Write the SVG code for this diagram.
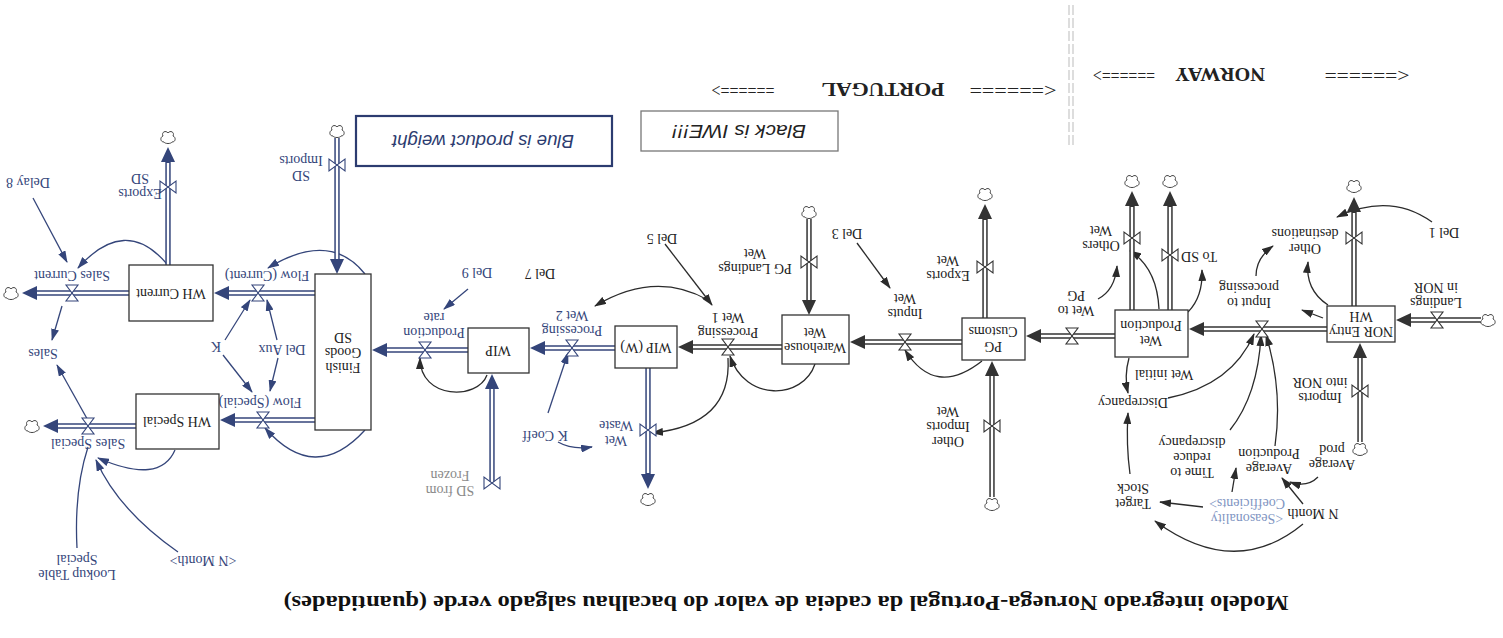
<svg xmlns="http://www.w3.org/2000/svg" width="1503" height="638" viewBox="0 0 1503 638">
<defs>
<style>
.bg{fill:#fff}
.box{fill:#fff;stroke:#333;stroke-width:1.3}
.t{font-family:"Liberation Serif",serif;font-size:14px;fill:#222;text-anchor:middle}
.tb{fill:#34457a}
.tg{fill:#8a8a8a}
.tl{fill:#7f95c2}
.po{stroke:#333;stroke-width:5.4;fill:none}
.po.b{stroke:#34457a}
.pi{stroke:#fff;stroke-width:2.4;fill:none}
.ah{fill:#333}
.ah.b{fill:#34457a}
.v{fill:#fff;stroke:#333;stroke-width:1.1}
.v.b{stroke:#34457a}
.cl{fill:#fff;stroke:#444;stroke-width:1}
.lk{fill:none;stroke:#2b2b2b;stroke-width:1.3;marker-end:url(#mk)}
.lk.b{stroke:#34457a;marker-end:url(#mkb)}
.nm{fill:none;stroke:#34457a;stroke-width:1.3}
.hd{font-family:"Liberation Serif",serif;font-size:18px;fill:#222;text-anchor:middle}
.hn{font-family:"Liberation Serif",serif;font-size:19px;font-weight:bold;fill:#222;text-anchor:middle}
</style>
<marker id="mk" viewBox="0 0 12 8" refX="11" refY="4" markerWidth="12" markerHeight="8" markerUnits="userSpaceOnUse" orient="auto"><path d="M0,0 L12,4 L0,8 Z" fill="#2b2b2b"/></marker>
<marker id="mkb" viewBox="0 0 12 8" refX="11" refY="4" markerWidth="12" markerHeight="8" markerUnits="userSpaceOnUse" orient="auto"><path d="M0,0 L12,4 L0,8 Z" fill="#34457a"/></marker>
<path id="vh" d="M-6,-8 H6 L-6,8 H6 Z"/>
<path id="vv" d="M-8,-6 V6 L8,-6 V6 Z"/>
<path id="cloud" d="M-4,5 C-8,5 -8,0 -5,-1 C-7,-5 -2,-7 0,-4 C2,-7 7,-5 5,-1 C8,0 8,5 4,5 C3,7 -3,7 -4,5 Z"/>
</defs>
<rect class="bg" x="0" y="0" width="1503" height="638"/>

<g id="header">
<line x1="1069" y1="5" x2="1069" y2="145" stroke="#bbb" stroke-width="1" stroke-dasharray="10 3"/>
<line x1="1073" y1="5" x2="1073" y2="145" stroke="#bbb" stroke-width="1" stroke-dasharray="10 3"/>
<text class="hd" x="1124" y="81" textLength="62" lengthAdjust="spacingAndGlyphs" transform="rotate(180 1124 75)">======&gt;</text>
<text class="hn" x="1220" y="82" textLength="90" lengthAdjust="spacingAndGlyphs" transform="rotate(180 1220 75)">NORWAY</text>
<text class="hd" x="1367" y="81" textLength="85" lengthAdjust="spacingAndGlyphs" transform="rotate(180 1367 75)">&lt;======</text>
<text class="hd" x="743" y="96" textLength="63" lengthAdjust="spacingAndGlyphs" transform="rotate(180 743 90)">======&gt;</text>
<text class="hn" x="883" y="97" textLength="123" lengthAdjust="spacingAndGlyphs" transform="rotate(180 883 90)">PORTUGAL</text>
<text class="hd" x="1013" y="96" textLength="87" lengthAdjust="spacingAndGlyphs" transform="rotate(180 1013 90)">&lt;======</text>
</g>

<g id="note-black">
<rect x="641" y="111" width="197" height="40" fill="#fff" stroke="#777" stroke-width="1.3"/>
<text x="739" y="137" textLength="134" lengthAdjust="spacingAndGlyphs" transform="rotate(180 739 131)" font-family="Liberation Sans, sans-serif" font-style="italic" font-size="18" fill="#222" text-anchor="middle">Black is IWE!!!</text>
</g>
<g id="note-blue">
<rect x="356" y="116" width="256" height="50" fill="#fff" stroke="#2c3c70" stroke-width="2.2"/>
<text x="483" y="147.5" textLength="182" lengthAdjust="spacingAndGlyphs" transform="rotate(180 483 141)" font-family="Liberation Sans, sans-serif" font-style="italic" font-size="19" fill="#2c3c70" text-anchor="middle">Blue is product weight</text>
</g>

<g id="title">
<text x="786" y="610" textLength="1005" lengthAdjust="spacingAndGlyphs" transform="rotate(180 786 603)" font-family="Liberation Serif, serif" font-weight="bold" font-size="21" fill="#111" text-anchor="middle">Modelo integrado Noruega-Portugal da cadeia de valor do bacalhau salgado verde (quantidades)</text>
</g>

<g id="connectors">
<path class="lk" d="M1432,222 Q1390,192 1337,217"/>
<path class="lk" d="M1328,305 Q1305,290 1308,262"/>
<path class="lk" d="M1323,318 L1302,310"/>
<path class="lk" d="M1256,276 Q1256,258 1273,246"/>
<path class="lk" d="M1188,312 Q1203,297 1202,270"/>
<path class="lk" d="M1159,309 Q1157,268 1130,251"/>
<path class="lk" d="M1098,299 Q1115,290 1117,266"/>
<path class="lk" d="M1129,358 Q1124,376 1128,393"/>
<path class="lk" d="M1168,398 Q1232,385 1254,334"/>
<path class="lk" d="M1230,430 Q1258,395 1261,335"/>
<path class="lk" d="M1275,446 Q1283,390 1266,335"/>
<path class="lk" d="M1130,474 Q1126,445 1128,413"/>
<path class="lk" d="M1303,524 Q1235,580 1155,521"/>
<path class="lk" d="M1303,504 L1282,478"/>
<path class="lk" d="M1318,477 Q1307,488 1290,482"/>
<path class="lk" d="M1203,507 L1160,502"/>
<path class="lk" d="M1232,492 L1236,468"/>
<path class="lk" d="M857,243 L890,288"/>
<path class="lk" d="M982,361 Q935,398 905,350"/>
<path class="lk" d="M665,244 L712,305"/>
<path class="lk" d="M815,364 C803,400 745,402 730,356"/>
<path class="lk" d="M708,300 Q655,270 595,306"/>
<path class="lk" d="M728,358 Q732,425 652,433"/>
<path class="lk" d="M487,375 C478,400 420,400 420,358"/>
<path class="lk b" d="M548,413 L568,353"/>
<path class="lk b" d="M558,442 Q572,450 592,447"/>
<path class="lk b" d="M468,289 L444,309"/>
<path class="lk b" d="M365,274 Q330,230 268,268"/>
<path class="lk b" d="M365,430 Q315,485 265,428"/>
<path class="lk b" d="M225,340 L250,300"/>
<path class="lk b" d="M223,355 L252,392"/>
<path class="lk b" d="M277,340 L267,300"/>
<path class="lk b" d="M278,358 L270,391"/>
<path class="lk b" d="M167,264 Q125,215 78,268"/>
<path class="lk b" d="M33,198 L67,262"/>
<path class="lk b" d="M62,306 L52,340"/>
<path class="lk b" d="M90,424 L57,365"/>
<path class="lk b" d="M175,450 Q160,485 98,458"/>
<path class="lk b" d="M178,552 Q118,510 96,460"/>
<path class="nm" d="M77,548 Q74,490 88,447"/>
</g>

<g id="flows">
<g id="flow-landings-nor">
<use href="#cloud" x="1488" y="320" class="cl"/>
<line class="po" x1="1481" y1="320" x2="1409" y2="320"/><line class="pi" x1="1481" y1="320" x2="1411" y2="320"/>
<polygon class="ah" points="1396,320 1411,313 1411,327"/>
<use href="#vh" x="1437" y="320" class="v"/>
<text class="t" transform="rotate(180 1436 295)"><tspan x="1436" y="292">Landings</tspan><tspan x="1436" y="307">in NOR</tspan></text>
</g>
<g id="flow-input-processing">
<line class="po" x1="1327" y1="329" x2="1202" y2="329"/><line class="pi" x1="1327" y1="329" x2="1204" y2="329"/>
<polygon class="ah" points="1189,329 1204,322 1204,336"/>
<use href="#vh" x="1262" y="329" class="v"/>
<text class="t" transform="rotate(180 1249 295)"><tspan x="1249" y="292">Input to</tspan><tspan x="1249" y="307">processing</tspan></text>
</g>
<g id="flow-wet-to-pg">
<line class="po" x1="1115" y1="336" x2="1039" y2="336"/><line class="pi" x1="1115" y1="336" x2="1041" y2="336"/>
<polygon class="ah" points="1026,336 1041,329 1041,343"/>
<use href="#vh" x="1072" y="336" class="v"/>
<text class="t" transform="rotate(180 1076 303)"><tspan x="1076" y="300">Wet to</tspan><tspan x="1076" y="315">PG</tspan></text>
</g>
<g id="flow-inputs-wet">
<line class="po" x1="962" y1="342" x2="863" y2="342"/><line class="pi" x1="962" y1="342" x2="865" y2="342"/>
<polygon class="ah" points="850,342 865,335 865,349"/>
<use href="#vh" x="905" y="342" class="v"/>
<text class="t" transform="rotate(180 905 306)"><tspan x="905" y="303">Inputs</tspan><tspan x="905" y="318">Wet</tspan></text>
</g>
<g id="flow-processing-wet1">
<line class="po" x1="782" y1="347" x2="691" y2="347"/><line class="pi" x1="782" y1="347" x2="693" y2="347"/>
<polygon class="ah" points="678,347 693,340 693,354"/>
<use href="#vh" x="728" y="347" class="v"/>
<text class="t" transform="rotate(180 728 325)"><tspan x="728" y="322">Processing</tspan><tspan x="728" y="337">Wet 1</tspan></text>
</g>
<g id="flow-processing-wet2">
<line class="po b" x1="615" y1="348" x2="543" y2="348"/><line class="pi" x1="615" y1="348" x2="545" y2="348"/>
<polygon class="ah b" points="530,348 545,341 545,355"/>
<use href="#vh" x="572" y="348" class="v b"/>
<text class="t tb" transform="rotate(180 572 323)"><tspan x="572" y="320">Processing</tspan><tspan x="572" y="335">Wet 2</tspan></text>
</g>
<g id="flow-production-rate">
<line class="po b" x1="468" y1="350" x2="385" y2="350"/><line class="pi" x1="468" y1="350" x2="387" y2="350"/>
<polygon class="ah b" points="372,350 387,343 387,357"/>
<use href="#vh" x="425" y="350" class="v b"/>
<text class="t tb" transform="rotate(180 434 325)"><tspan x="434" y="322">Production</tspan><tspan x="434" y="337">rate</tspan></text>
</g>
<g id="flow-current">
<line class="po b" x1="315" y1="293" x2="227" y2="293"/><line class="pi" x1="315" y1="293" x2="229" y2="293"/>
<polygon class="ah b" points="214,293 229,286 229,300"/>
<use href="#vh" x="258" y="293" class="v b"/>
<text class="t tb" x="267" y="279.5" transform="rotate(180 267 275)">Flow (Current)</text>
</g>
<g id="flow-special">
<line class="po b" x1="315" y1="420" x2="233" y2="420"/><line class="pi" x1="315" y1="420" x2="235" y2="420"/>
<polygon class="ah b" points="220,420 235,413 235,427"/>
<use href="#vh" x="263" y="420" class="v b"/>
<text class="t tb" x="260" y="406.5" transform="rotate(180 260 402)">Flow (Special)</text>
</g>
<g id="flow-sales-current">
<use href="#cloud" x="11" y="293" class="cl"/>
<line class="po b" x1="129" y1="293" x2="35" y2="293"/><line class="pi" x1="129" y1="293" x2="37" y2="293"/>
<polygon class="ah b" points="22,293 37,286 37,300"/>
<use href="#vh" x="72" y="293" class="v b"/>
<text class="t tb" x="72" y="279.5" transform="rotate(180 72 275)">Sales Current</text>
</g>
<g id="flow-sales-special">
<use href="#cloud" x="32" y="426" class="cl"/>
<line class="po b" x1="136" y1="426" x2="56" y2="426"/><line class="pi" x1="136" y1="426" x2="58" y2="426"/>
<polygon class="ah b" points="43,426 58,419 58,433"/>
<use href="#vh" x="88" y="426" class="v b"/>
<text class="t tb" x="88" y="447.5" transform="rotate(180 88 443)">Sales Special</text>
</g>
<g id="flow-other-destinations">
<use href="#cloud" x="1354" y="186" class="cl"/>
<line class="po" x1="1354" y1="306" x2="1354" y2="211"/><line class="pi" x1="1354" y1="306" x2="1354" y2="213"/>
<polygon class="ah" points="1354,197 1347,212 1361,212"/>
<use href="#vv" x="1354" y="238" class="v"/>
<text class="t" transform="rotate(180 1305 241)"><tspan x="1305" y="238">Other</tspan><tspan x="1305" y="253">destinations</tspan></text>
</g>
<g id="flow-imports-nor">
<use href="#cloud" x="1360" y="449" class="cl"/>
<line class="po" x1="1360" y1="442" x2="1360" y2="356"/><line class="pi" x1="1360" y1="442" x2="1360" y2="358"/>
<polygon class="ah" points="1360,343 1353,358 1367,358"/>
<use href="#vv" x="1360" y="391" class="v"/>
<text class="t" transform="rotate(180 1320 390)"><tspan x="1320" y="387">Imports</tspan><tspan x="1320" y="402">into NOR</tspan></text>
</g>
<g id="flow-others-wet">
<use href="#cloud" x="1132" y="181" class="cl"/>
<line class="po" x1="1132" y1="310" x2="1132" y2="205"/><line class="pi" x1="1132" y1="310" x2="1132" y2="207"/>
<polygon class="ah" points="1132,191 1125,206 1139,206"/>
<use href="#vv" x="1132" y="238" class="v"/>
<text class="t" transform="rotate(180 1101 238)"><tspan x="1101" y="235">Others</tspan><tspan x="1101" y="250">Wet</tspan></text>
</g>
<g id="flow-to-sd">
<use href="#cloud" x="1170" y="181" class="cl"/>
<line class="po" x1="1170" y1="310" x2="1170" y2="205"/><line class="pi" x1="1170" y1="310" x2="1170" y2="207"/>
<polygon class="ah" points="1170,191 1163,206 1177,206"/>
<use href="#vv" x="1170" y="255" class="v"/>
<text class="t" x="1199" y="260.5" transform="rotate(180 1199 256)">To SD</text>
</g>
<g id="flow-exports-wet">
<use href="#cloud" x="985" y="194" class="cl"/>
<line class="po" x1="985" y1="318" x2="985" y2="218"/><line class="pi" x1="985" y1="318" x2="985" y2="220"/>
<polygon class="ah" points="985,204 978,219 992,219"/>
<use href="#vv" x="985" y="267" class="v"/>
<text class="t" transform="rotate(180 948 268)"><tspan x="948" y="265">Exports</tspan><tspan x="948" y="280">Wet</tspan></text>
</g>
<g id="flow-other-imports-wet">
<use href="#cloud" x="992" y="504" class="cl"/>
<line class="po" x1="992" y1="497" x2="992" y2="374"/><line class="pi" x1="992" y1="497" x2="992" y2="376"/>
<polygon class="ah" points="992,361 985,376 999,376"/>
<use href="#vv" x="992" y="426" class="v"/>
<text class="t" transform="rotate(180 948 426)"><tspan x="948" y="415.5">Other</tspan><tspan x="948" y="430.5">Imports</tspan><tspan x="948" y="445.5">Wet</tspan></text>
</g>
<g id="flow-pg-landings">
<use href="#cloud" x="809" y="212" class="cl"/>
<line class="po" x1="809" y1="219" x2="809" y2="302"/><line class="pi" x1="809" y1="219" x2="809" y2="300"/>
<polygon class="ah" points="809,315 802,300 816,300"/>
<use href="#vv" x="809" y="262" class="v"/>
<text class="t" transform="rotate(180 755 261)"><tspan x="755" y="258">PG Landings</tspan><tspan x="755" y="273">Wet</tspan></text>
</g>
<g id="flow-wet-waste">
<use href="#cloud" x="648" y="499" class="cl"/>
<line class="po b" x1="648" y1="368" x2="648" y2="475"/><line class="pi" x1="648" y1="368" x2="648" y2="473"/>
<polygon class="ah b" points="648,489 641,474 655,474"/>
<use href="#vv" x="648" y="430" class="v b"/>
<text class="t tb" transform="rotate(180 616 433)"><tspan x="616" y="430">Wet</tspan><tspan x="616" y="445">Waste</tspan></text>
</g>
<g id="flow-sd-frozen">
<line class="po b" x1="492" y1="483" x2="492" y2="387"/><line class="pi" x1="492" y1="483" x2="492" y2="389"/>
<polygon class="ah b" points="492,374 485,389 499,389"/>
<use href="#vv" x="492" y="483" class="v b"/>
<text class="t tg" transform="rotate(180 450 483)"><tspan x="450" y="480">SD from</tspan><tspan x="450" y="495">Frozen</tspan></text>
</g>
<g id="flow-sd-imports">
<use href="#cloud" x="337" y="131" class="cl"/>
<line class="po b" x1="337" y1="138" x2="337" y2="261"/><line class="pi" x1="337" y1="138" x2="337" y2="259"/>
<polygon class="ah b" points="337,274 330,259 344,259"/>
<use href="#vv" x="337" y="165" class="v b"/>
<text class="t tb" transform="rotate(180 301 168)"><tspan x="301" y="165">SD</tspan><tspan x="301" y="180">Imports</tspan></text>
</g>
<g id="flow-exports-sd">
<use href="#cloud" x="168" y="137" class="cl"/>
<line class="po b" x1="168" y1="265" x2="168" y2="161"/><line class="pi" x1="168" y1="265" x2="168" y2="163"/>
<polygon class="ah b" points="168,147 161,162 175,162"/>
<use href="#vv" x="168" y="187" class="v b"/>
<text class="t tb" transform="rotate(180 140 186)"><tspan x="140" y="183">Exports</tspan><tspan x="140" y="198">SD</tspan></text>
</g>
</g>

<g id="stock-nor-entry-wh"><rect class="box" x="1327" y="306" width="68" height="36"/><text class="t" transform="rotate(180 1361 324)"><tspan x="1361" y="321">NOR Entry</tspan><tspan x="1361" y="336">WH</tspan></text></g>
<g id="stock-wet-production"><rect class="box" x="1115" y="310" width="73" height="47"/><text class="t" transform="rotate(180 1151 333)"><tspan x="1151" y="330">Wet</tspan><tspan x="1151" y="345">Production</tspan></text></g>
<g id="stock-pg-customs"><rect class="box" x="962" y="318" width="63" height="42"/><text class="t" transform="rotate(180 993 339)"><tspan x="993" y="336">PG</tspan><tspan x="993" y="351">Customs</tspan></text></g>
<g id="stock-warehouse-wet"><rect class="box" x="782" y="315" width="67" height="49"/><text class="t" transform="rotate(180 815 340)"><tspan x="815" y="337">Warehouse</tspan><tspan x="815" y="352">Wet</tspan></text></g>
<g id="stock-wip-w"><rect class="box" x="615" y="326" width="62" height="42"/><text class="t" x="646" y="351.5" transform="rotate(180 646 347)">WIP (W)</text></g>
<g id="stock-wip"><rect class="box" x="468" y="328" width="61" height="45"/><text class="t" x="498" y="354.5" transform="rotate(180 498 350)">WIP</text></g>
<g id="stock-finish-goods-sd"><rect class="box" x="315" y="274" width="56" height="156"/><text class="t" transform="rotate(180 343 352)"><tspan x="343" y="341.5">Finish</tspan><tspan x="343" y="356.5">Goods</tspan><tspan x="343" y="371.5">SD</tspan></text></g>
<g id="stock-wh-current"><rect class="box" x="129" y="265" width="84" height="56"/><text class="t" x="171" y="297.5" transform="rotate(180 171 293)">WH Current</text></g>
<g id="stock-wh-special"><rect class="box" x="136" y="394" width="83" height="55"/><text class="t" x="177" y="425.5" transform="rotate(180 177 421)">WH Special</text></g>

<g id="aux-del1"><text class="t" x="1444" y="236.5" transform="rotate(180 1444 232)">Del 1</text></g>
<g id="aux-wet-initial"><text class="t" x="1164" y="378.5" transform="rotate(180 1164 374)">Wet initial</text></g>
<g id="aux-discrepancy"><text class="t" x="1133" y="406.5" transform="rotate(180 1133 402)">Discrepancy</text></g>
<g id="aux-time-to-reduce"><text class="t" transform="rotate(180 1192 457)"><tspan x="1192" y="446.5">Time to</tspan><tspan x="1192" y="461.5">reduce</tspan><tspan x="1192" y="476.5">discrepancy</tspan></text></g>
<g id="aux-average-production"><text class="t" transform="rotate(180 1269 461)"><tspan x="1269" y="458">Average</tspan><tspan x="1269" y="473">Production</tspan></text></g>
<g id="aux-average-prod"><text class="t" transform="rotate(180 1332 457)"><tspan x="1332" y="454">Average</tspan><tspan x="1332" y="469">prod</tspan></text></g>
<g id="aux-n-month"><text class="t" x="1313" y="517.5" transform="rotate(180 1313 513)">N Month</text></g>
<g id="aux-seasonality"><text class="t tl" transform="rotate(180 1247 511)"><tspan x="1247" y="508">&lt;Seasonality</tspan><tspan x="1247" y="523">Coefficients&gt;</tspan></text></g>
<g id="aux-target-stock"><text class="t" transform="rotate(180 1133 496)"><tspan x="1133" y="493">Target</tspan><tspan x="1133" y="508">Stock</tspan></text></g>
<g id="aux-del3"><text class="t" x="847" y="237.5" transform="rotate(180 847 233)">Del 3</text></g>
<g id="aux-del5"><text class="t" x="662" y="242.5" transform="rotate(180 662 238)">Del 5</text></g>
<g id="aux-del7"><text class="t" x="540" y="277.5" transform="rotate(180 540 273)">Del 7</text></g>
<g id="aux-del9"><text class="t tb" x="477" y="276.5" transform="rotate(180 477 272)">Del 9</text></g>
<g id="aux-k-coeff"><text class="t tb" x="545" y="439.5" transform="rotate(180 545 435)">K Coeff</text></g>
<g id="aux-delay8"><text class="t tb" x="28" y="186.5" transform="rotate(180 28 182)">Delay 8</text></g>
<g id="aux-del-aux"><text class="t tb" x="282" y="353.5" transform="rotate(180 282 349)">Del Aux</text></g>
<g id="aux-k"><text class="t tb" x="216" y="350.5" transform="rotate(180 216 346)">K</text></g>
<g id="aux-sales"><text class="t tb" x="43" y="357.5" transform="rotate(180 43 353)">Sales</text></g>
<g id="aux-n-month-shadow"><text class="t tb" x="203" y="564.5" transform="rotate(180 203 560)">&lt;N Month&gt;</text></g>
<g id="aux-lookup"><text class="t tb" transform="rotate(180 77 567)"><tspan x="77" y="564">Lookup Table</tspan><tspan x="77" y="579">Special</tspan></text></g>
</svg>
